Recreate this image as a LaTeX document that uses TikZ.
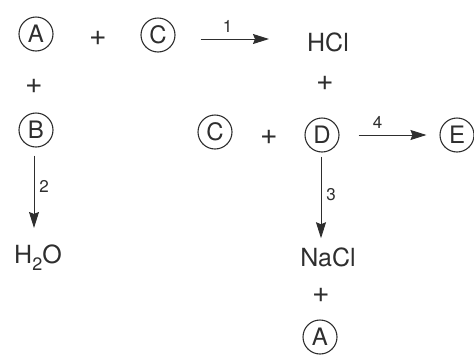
\documentclass[tikz,border=0pt]{standalone}
\usepackage{fontspec}
\setmainfont{TeX Gyre Heros}
\usetikzlibrary{arrows.meta}
\definecolor{ink}{HTML}{2E2E2E}
\tikzset{
  chem/.style={text=ink, inner sep=1pt, font=\fontsize{25}{28}\selectfont},
  sub/.style={circle, draw=ink, line width=1.1pt, minimum size=34pt, inner sep=0pt,
              text=ink, font=\fontsize{24}{26}\selectfont},
  plus/.style={text=ink, inner sep=0pt, font=\fontsize{30}{32}\selectfont},
  rxn/.style={draw=ink, line width=0.9pt, -{Stealth[length=16pt,width=10pt,inset=2pt]}},
  num/.style={text=ink, inner sep=0pt, font=\fontsize{17}{18}\selectfont}
}
\begin{document}
\begin{tikzpicture}[x=1pt,y=-1pt]
\useasboundingbox (0,0) rectangle (474,354);
% first line: A + C -> HCl
\node[sub]  (A1) at (36,34)  {A};
\node[plus] (p1) at (98,38)  {+};
\node[sub]  (C1) at (158,35) {C};
\node[chem] (HCl) at (328,42) {HCl};
\coordinate (r1s) at ([yshift=-4pt]C1.east);
\coordinate (r1e) at (HCl.west |- r1s);
\draw[rxn, shorten <=25pt, shorten >=37pt] (r1s) -- (r1e)
  node[num, pos=0.4, above=6pt] (n1) {1};
% plus signs of the second line
\node[plus] (p2) at (34,86)  {+};
\node[plus] (p3) at (325,83) {+};
% third line: B, C + D -> E
\node[sub]  (B)  at (36,130)  {B};
\node[sub]  (C2) at (215,132) {C};
\node[plus] (p4) at (269,137) {+};
\node[sub]  (D)  at (322,135) {D};
\node[sub]  (E)  at (457,135) {E};
\draw[rxn, shorten <=19pt, shorten >=13pt] (D.east) -- (E.west)
  node[num, pos=0.38, above=6pt] (n4) {4};
% B -> H2O
\node[chem] (H2O) at (38,258) {H\raisebox{-7pt}{\fontsize{18}{18}\selectfont 2}O};
\coordinate (r2s) at ([xshift=-2pt]B.south);
\draw[rxn, shorten <=8pt, shorten >=16pt] (r2s) -- (r2s |- H2O.north)
  node[num, pos=0.4, right=5pt] (n2) {2};
% D -> NaCl + A
\node[chem] (NaCl) at (328,257) {NaCl};
\node[plus] (p5) at (321,295) {+};
\node[sub]  (A2) at (320,337) {A};
\coordinate (r3s) at ([xshift=-1pt]D.south);
\draw[rxn, shorten <=4pt, shorten >=8pt] (r3s) -- (r3s |- NaCl.north)
  node[num, pos=0.45, right=5pt] (n3) {3};
\end{tikzpicture}
\end{document}
